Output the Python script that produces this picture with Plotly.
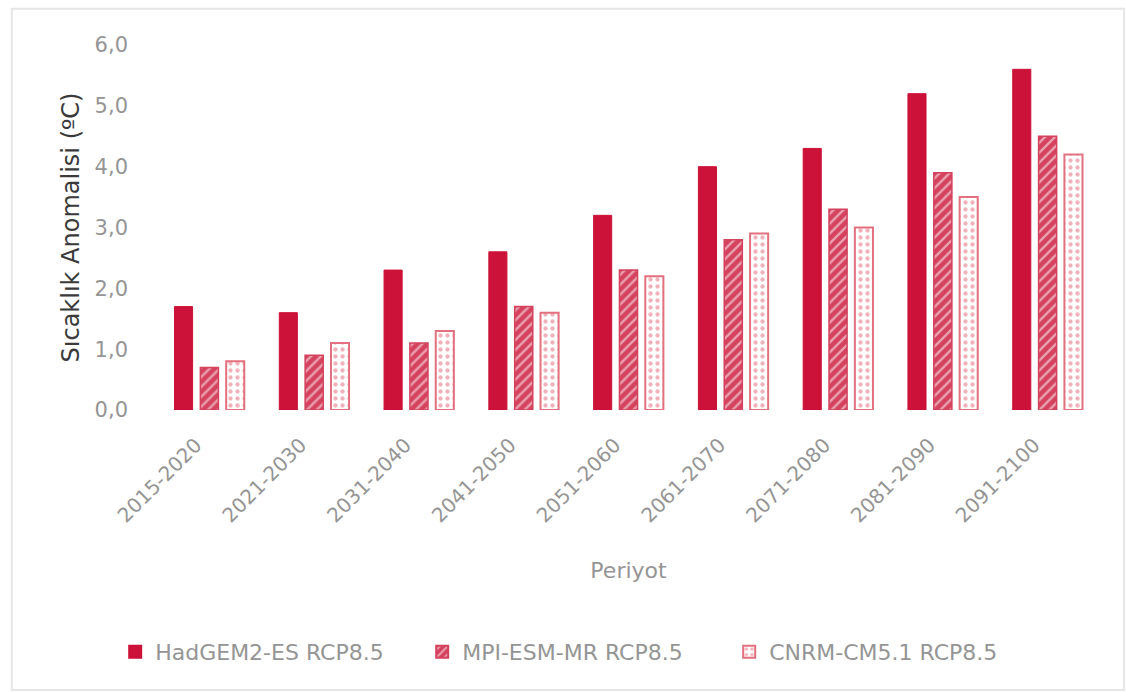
import plotly.graph_objects as go

periods = ["2015-2020", "2021-2030", "2031-2040", "2041-2050", "2051-2060",
           "2061-2070", "2071-2080", "2081-2090", "2091-2100"]
hadgem = [1.7, 1.6, 2.3, 2.6, 3.2, 4.0, 4.3, 5.2, 5.6]
mpi = [0.7, 0.9, 1.1, 1.7, 2.3, 2.8, 3.3, 3.9, 4.5]
cnrm = [0.8, 1.1, 1.3, 1.6, 2.2, 2.9, 3.0, 3.5, 4.2]

FONT = "'DejaVu Sans', sans-serif"
GREY = "#959595"

fig = go.Figure()
fig.add_trace(go.Bar(
    name="HadGEM2-ES RCP8.5", x=periods, y=hadgem,
    marker=dict(color="#cc1238", line=dict(color="#cc1238", width=1)),
))
fig.add_trace(go.Bar(
    name="MPI-ESM-MR RCP8.5", x=periods, y=mpi,
    marker=dict(color="#d4425e", line=dict(color="#d4425e", width=1.5),
                pattern=dict(shape="/", bgcolor="#d4425e", fgcolor="#ffffff",
                             size=7, solidity=0.35)),
))
fig.add_trace(go.Bar(
    name="CNRM-CM5.1 RCP8.5", x=periods, y=cnrm,
    marker=dict(color="#ffffff", line=dict(color="#e3707f", width=2),
                pattern=dict(shape=".", bgcolor="#ffffff", fgcolor="#e06575",
                             size=7, solidity=0.3)),
))

# rotated period labels sit slightly left of each group centre
period_labels = [p + "\u00a0\u00a0\u00a0" for p in periods]

fig.update_layout(
    width=1126, height=692,
    margin=dict(l=157, r=26, t=45, b=282),
    paper_bgcolor="white", plot_bgcolor="white",
    barmode="group", bargap=0.26, bargroupgap=0.3,
    separators=",.",
    font=dict(family=FONT, color=GREY, size=18),
    xaxis=dict(
        tickmode="array", tickvals=periods, ticktext=period_labels,
        tickangle=-45, tickfont=dict(size=20, color=GREY),
        showgrid=False, showline=False, ticks="", ticklabelstandoff=5,
        title=dict(text="Periyot", font=dict(size=22, color=GREY), standoff=36),
    ),
    yaxis=dict(
        range=[0, 6], dtick=1, tickformat=".1f",
        tickfont=dict(size=21, color=GREY), ticklabelstandoff=28,
        showgrid=False, zeroline=False, showline=False, ticks="",
        title=dict(text="Sıcaklık Anomalisi (ºC)",
                   font=dict(size=24, color="#3a3a3a"), standoff=8),
    ),
    legend=dict(
        orientation="h", x=0.444, xanchor="center", y=-0.663, yanchor="middle",
        font=dict(size=22, color=GREY), entrywidth=262, itemsizing="constant",
        traceorder="normal",
    ),
    shapes=[dict(type="rect", xref="paper", yref="paper",
                 x0=-0.154, x1=1.0255, y0=-0.767, y1=1.099,
                 line=dict(color="#e6e6e6", width=2), layer="below")],
)

fig.write_html("out.html")
